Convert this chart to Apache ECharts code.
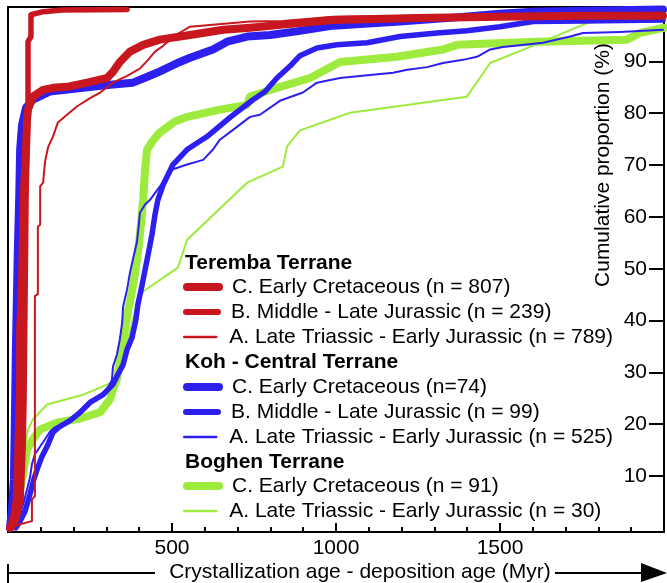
<!DOCTYPE html>
<html><head><meta charset="utf-8">
<script src="https://cdn.jsdelivr.net/npm/echarts@6/dist/echarts.min.js"></script>
<style>html,body{margin:0;padding:0;background:#fff}#c{width:667px;height:583px}</style>
</head><body><div id="c"></div>
<script>
const FONT = '"Liberation Sans", Arial, Helvetica, sans-serif';
const xTickLabels = [500, 1000, 1500];
const yTickLabels = [10, 20, 30, 40, 50, 60, 70, 80, 90];
const groupTitles = ['Teremba Terrane', 'Koh - Central Terrane', 'Boghen Terrane'];
const seriesNames = [
  'C. Early Cretaceous (n = 807)',
  'B. Middle - Late Jurassic (n = 239)',
  'A. Late Triassic - Early Jurassic (n = 789)',
  'C. Early Cretaceous (n=74)',
  'B. Middle - Late Jurassic (n = 99)',
  'A. Late Triassic - Early Jurassic (n = 525)',
  'C. Early Cretaceous (n = 91)',
  'A. Late Triassic - Early Jurassic (n = 30)'
];
// [crystallization - deposition age (Myr), cumulative proportion (%)]
const teremba_C = [[6,0],[18,1.7],[27,5.5],[30,11.3],[34,20.9],[37,28.6],[37,38.3],[43,47.9],[46,57.6],[49,65.3],[55,73.0],[58,78.8],[61,80.7],[76,83.2],[107,84.5],[137,84.9],[180,85.1],[241,85.9],[281,86.5],[302,86.8],[320,88.0],[341,89.9],[372,91.9],[412,93.2],[463,94.2],[555,95.1],[656,96.1],[738,96.5],[838,97.1],[991,98.0],[1247,98.4],[1500,98.6],[1753,98.8],[1997,98.8]];
const teremba_B = [[12,0],[27,1.7],[40,5.5],[46,15.2],[49,24.8],[52,44.1],[55,63.3],[58,73.0],[61,82.6],[61,93.8],[70,94.8],[70,99.0],[107,99.6],[165,99.9],[363,100]];
const teremba_A = [[12,0.1],[37,0.7],[73,1.3],[73,5.5],[82,6.1],[82,44.7],[91,45.1],[91,58.1],[98,58.5],[98,65.9],[107,66.6],[113,70.7],[122,73.4],[137,75.5],[152,78.2],[180,79.7],[210,81.3],[250,82.9],[281,84.0],[320,85.9],[363,87.2],[402,88.6],[427,90.3],[448,91.9],[473,93.0],[509,95.0],[555,96.7],[738,97.7],[838,97.8],[991,98.6],[1247,98.8],[1500,99.0],[1753,99.2],[1997,99.4]];
const koh_C = [[6,0],[12,3.6],[18,9.4],[21,20.9],[24,34.4],[27,44.1],[30,53.7],[34,63.3],[37,73.0],[43,77.8],[55,81.1],[76,82.6],[128,84.2],[229,84.9],[311,85.5],[381,85.9],[412,86.7],[454,87.8],[524,89.9],[555,90.7],[625,92.3],[668,93.8],[729,94.8],[799,95.1],[890,95.9],[991,96.9],[1195,97.7],[1348,98.4],[1500,99.2],[1601,99.6],[1753,99.8],[1997,100]];
const koh_B = [[24,0],[37,1.3],[52,3.2],[67,6.5],[79,9.4],[91,11.7],[104,13.8],[122,16.1],[137,18.4],[159,19.6],[189,20.7],[220,22.3],[250,24.2],[290,25.7],[320,27.7],[335,29.6],[351,31.5],[363,34.4],[378,36.7],[390,40.2],[396,43.1],[409,46.9],[418,49.8],[427,52.7],[439,56.6],[448,60.4],[457,63.3],[473,66.2],[503,70.1],[546,73.0],[607,75.5],[677,79.2],[747,82.6],[784,84.2],[820,86.8],[860,89.1],[890,91.1],[942,92.6],[1003,93.2],[1095,93.6],[1195,94.8],[1308,95.5],[1399,95.9],[1500,96.7],[1601,97.7],[1753,97.8],[1997,98.0]];
const koh_A = [[15,0],[27,0.9],[37,2.6],[46,4.5],[58,7.4],[67,9.7],[73,12.3],[82,14.2],[98,15.7],[113,17.1],[128,18.6],[143,19.4],[174,20.4],[204,21.7],[235,23.3],[265,24.8],[302,26.7],[317,28.6],[320,31.1],[332,33.4],[341,36.4],[348,39.6],[351,42.7],[363,46.0],[372,49.3],[384,52.7],[393,55.1],[399,58.5],[402,60.8],[418,62.4],[433,63.3],[463,65.9],[503,69.2],[546,70.1],[595,71.0],[625,73.0],[646,74.9],[686,76.8],[738,79.3],[768,79.7],[829,82.4],[899,84.0],[942,85.9],[1012,86.8],[1104,87.4],[1174,87.8],[1217,88.4],[1278,88.9],[1326,89.7],[1387,90.3],[1430,90.9],[1470,92.3],[1509,92.8],[1631,93.6],[1714,94.8],[1753,95.5],[1866,95.7],[1997,96.1]];
const boghen_C = [[30,5.5],[40,8.4],[46,10.3],[58,15.2],[76,17.1],[98,19.0],[149,20.3],[220,21.1],[281,22.3],[311,24.8],[320,26.7],[332,28.6],[341,32.1],[354,37.3],[366,41.8],[378,45.6],[390,50.2],[399,54.6],[405,58.5],[412,63.3],[418,69.2],[424,73.0],[439,74.5],[463,76.3],[509,78.4],[546,79.3],[646,80.7],[729,81.6],[738,83.2],[799,84.5],[921,86.8],[1012,89.9],[1186,90.9],[1326,92.3],[1369,93.2],[1613,93.8],[1887,94.2],[1927,95.5],[2000,96.5]];
const boghen_A = [[30,0.7],[43,7.4],[52,15.7],[61,19.0],[76,20.9],[119,23.8],[229,25.7],[320,28.1],[366,36.4],[396,44.1],[412,45.6],[518,50.2],[546,55.6],[729,66.6],[838,69.7],[851,73.6],[890,76.7],[1043,80.1],[1399,83.2],[1470,89.7],[1592,92.8],[1765,97.4],[1927,99.6],[2000,100]];

const RED = '#C8171F', BLUE = '#2C1FEF', GREEN = '#9DEB3D';
// draw order: green under blue under red
const seriesDefs = [
  {name: seriesNames[6], data: boghen_C, color: GREEN, width: 8, legendW: 8, row: 486},
  {name: seriesNames[7], data: boghen_A, color: GREEN, width: 2, legendW: 2.5, row: 511},
  {name: seriesNames[3], data: koh_C, color: BLUE, width: 8, legendW: 8, row: 387},
  {name: seriesNames[4], data: koh_B, color: BLUE, width: 5.5, legendW: 6, row: 412},
  {name: seriesNames[5], data: koh_A, color: BLUE, width: 2, legendW: 2.5, row: 437},
  {name: seriesNames[0], data: teremba_C, color: RED, width: 8, legendW: 8, row: 287},
  {name: seriesNames[1], data: teremba_B, color: RED, width: 5.5, legendW: 6, row: 312},
  {name: seriesNames[2], data: teremba_A, color: RED, width: 2, legendW: 2.5, row: 337}
];
const titleRows = [263, 362, 462];

const chart = echarts.init(document.getElementById('c'), null, {renderer: 'canvas'});
const option = {
  animation: false,
  backgroundColor: '#fff',
  grid: {left: 8, right: 3, top: 7, bottom: 51, show: true, borderColor: '#000', borderWidth: 2, backgroundColor: 'transparent'},
  xAxis: {
    type: 'value', min: 0, max: 2000, interval: 500,
    axisLine: {show: true, onZero: false, lineStyle: {color: '#000', width: 2}},
    axisTick: {show: true, inside: true, length: 9, lineStyle: {color: '#000', width: 2}},
    minorTick: {show: true, splitNumber: 5, length: 5, lineStyle: {color: '#000', width: 2}},
    axisLabel: {customValues: xTickLabels, formatter: v => String(v), margin: 6, fontSize: 21, color: '#000', fontFamily: FONT},
    splitLine: {show: false}, minorSplitLine: {show: false}
  },
  yAxis: {
    type: 'value', position: 'right', min: -0.8, max: 100.5,
    axisLine: {show: false, onZero: false},
    axisTick: {show: true, inside: true, length: 15, customValues: yTickLabels, lineStyle: {color: '#000', width: 2}},
    axisLabel: {inside: true, customValues: yTickLabels, margin: 17, fontSize: 21, color: '#000', fontFamily: FONT},
    splitLine: {show: false}
  },
  legend: seriesDefs.map(d => ({
    show: true, data: [d.name], left: 183, top: d.row - 11, orient: 'horizontal',
    padding: 0, itemWidth: 32, itemHeight: 14, selectedMode: false,
    itemStyle: {opacity: 0, borderWidth: 0},
    lineStyle: {width: d.legendW, cap: 'round', opacity: 1},
    formatter: '{t|{name}}',
    textStyle: {fontSize: 21, fontFamily: FONT, color: '#000', lineHeight: 22,
      rich: {t: {fontSize: 21, fontFamily: FONT, color: '#000', lineHeight: 22, padding: [0, 0, 0, 8]}}}
  })),
  graphic: [
    ...groupTitles.map((t, i) => ({
      type: 'text', x: 185, y: titleRows[i], silent: true,
      style: {text: t, fill: '#000', font: 'bold 21px ' + FONT, align: 'left', verticalAlign: 'middle'}
    })),
    {type: 'text', x: 603, y: 165, rotation: Math.PI / 2, silent: true,
      style: {text: 'Cumulative proportion (%)', fill: '#000', font: '21px ' + FONT, align: 'center', verticalAlign: 'middle'}},
    {type: 'text', x: 360, y: 572, silent: true,
      style: {text: 'Crystallization age - deposition age (Myr)', fill: '#000', font: '21px ' + FONT, align: 'center', verticalAlign: 'middle'}},
    {type: 'line', silent: true, shape: {x1: 8, y1: 564, x2: 8, y2: 583}, style: {stroke: '#000', lineWidth: 2}},
    {type: 'line', silent: true, shape: {x1: 8, y1: 573, x2: 155, y2: 573}, style: {stroke: '#000', lineWidth: 2}},
    {type: 'line', silent: true, shape: {x1: 555, y1: 573, x2: 648, y2: 573}, style: {stroke: '#000', lineWidth: 2}},
    {type: 'polygon', silent: true, shape: {points: [[641, 563], [667, 573], [641, 582]]}, style: {fill: '#000'}}
  ],
  series: seriesDefs.map(d => ({
    name: d.name, type: 'line', data: d.data, showSymbol: false, symbol: 'none',
    color: d.color, clip: true,
    lineStyle: {color: d.color, width: d.width, cap: 'round', join: 'round'},
    emphasis: {disabled: true}
  }))
};
chart.setOption(option);
</script>
</body></html>
